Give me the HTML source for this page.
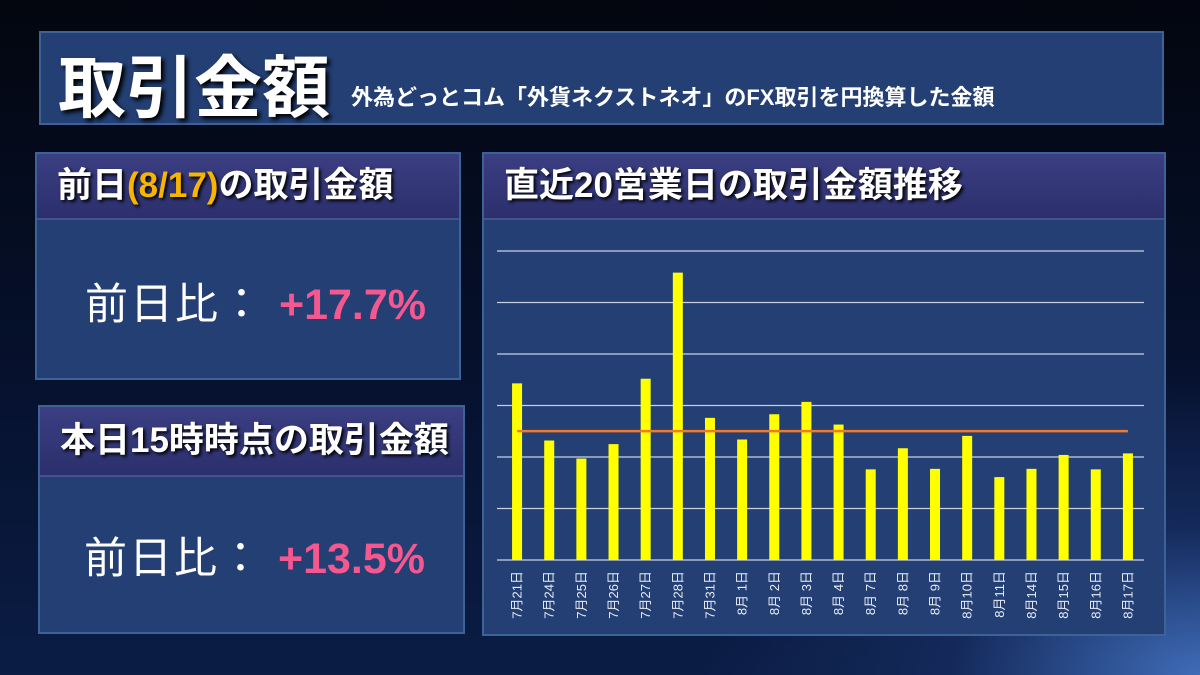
<!DOCTYPE html>
<html><head><meta charset="utf-8"><style>
body{margin:0;width:1200px;height:675px;overflow:hidden;font-family:"Liberation Sans","Noto Sans CJK JP",sans-serif;background:radial-gradient(ellipse 500px 300px at 1200px 675px,#3f6cb8 0%,#14295a 50%,rgba(5,15,40,0) 100%),linear-gradient(180deg,#03060f 0%,#061230 60%,#0b1d45 100%);position:relative}
.box{position:absolute;background:#233f74;border:2px solid #3d6296;box-sizing:border-box}
.bar{position:absolute;left:0;right:0;top:0;background:linear-gradient(180deg,#3b3f83,#2b2f6c);border-bottom:2px solid #4a4f92;color:#fff;font-weight:bold;font-size:35px;box-sizing:border-box;padding-left:20px;text-shadow:2px 2px 3px #000;white-space:nowrap}
.big{position:absolute;font-size:43px;color:#fff;letter-spacing:2px;white-space:nowrap}
.big span{color:#f5578f;font-weight:bold;letter-spacing:0}
</style></head><body>
<div class="box" style="left:39px;top:31px;width:1125px;height:94px">
<div style="position:absolute;left:17px;top:0px;font-size:68px;font-weight:bold;color:#fff;text-shadow:3px 3px 4px #000;white-space:nowrap">取引金額</div>
<div style="position:absolute;left:310px;top:47px;font-size:22px;font-weight:bold;color:#fff;white-space:nowrap">外為どっとコム「外貨ネクストネオ」のFX取引を円換算した金額</div>
</div>
<div class="box" style="left:35px;top:152px;width:426px;height:228px">
<div class="bar" style="height:66px;line-height:64px">前日<span style="color:#f7b500">(8/17)</span>の取引金額</div>
<div class="big" style="left:48px;top:116px">前日比： <span>+17.7%</span></div>
</div>
<div class="box" style="left:38px;top:405px;width:427px;height:229px">
<div class="bar" style="height:70px;line-height:68px">本日15時時点の取引金額</div>
<div class="big" style="left:44px;top:117px">前日比： <span>+13.5%</span></div>
</div>
<div class="box" style="left:482px;top:152px;width:684px;height:484px">
<div class="bar" style="height:66px;line-height:64px">直近20営業日の取引金額推移</div>
</div>
<svg id="chart" width="1200" height="675" style="position:absolute;left:0;top:0"></svg>
<script>
const categories=["7月21日","7月24日","7月25日","7月26日","7月27日","7月28日","7月31日","8月 1日","8月 2日","8月 3日","8月 4日","8月 7日","8月 8日","8月 9日","8月10日","8月11日","8月14日","8月15日","8月16日","8月17日"];
const values=[3.43,2.32,1.97,2.25,3.52,5.58,2.76,2.34,2.83,3.07,2.63,1.76,2.17,1.77,2.41,1.61,1.77,2.04,1.76,2.07];
const gridTicks=[0,1,2,3,4,5,6];
const NS="http://www.w3.org/2000/svg";
const svg=document.getElementById('chart');
const x0=501,x1=1144,yBase=560,yTop=251,yMax=6;
const y=v=>yBase-(v/yMax)*(yBase-yTop);
const step=(x1-x0)/categories.length;
const xc=i=>x0+step*(i+0.5);
function mk(t,a){const e=document.createElementNS(NS,t);for(const k in a)e.setAttribute(k,a[k]);svg.appendChild(e);return e;}
gridTicks.forEach(t=>{
const l=mk('line',{x1:x0-4,x2:x1,y1:y(t),y2:y(t),stroke:'#c8d0e0','stroke-width':1.2});


});
values.forEach((v,i)=>{
const r=mk('rect',{x:xc(i)-5,y:y(v),width:10,height:yBase-y(v),fill:'#ffff00'});


const tx=xc(i)+4.5,ty=571;
const t=mk('text',{x:0,y:0,transform:`translate(${tx},${ty}) rotate(-90)`,'text-anchor':'end',fill:'#e8ecf5','font-size':13});
t.textContent=categories[i];


});
const avg=values.reduce((a,b)=>a+b,0)/values.length;
const al=mk('line',{x1:xc(0),x2:xc(values.length-1),y1:y(avg),y2:y(avg),stroke:'#f07a2a','stroke-width':2.5});


</script>
</body></html>
